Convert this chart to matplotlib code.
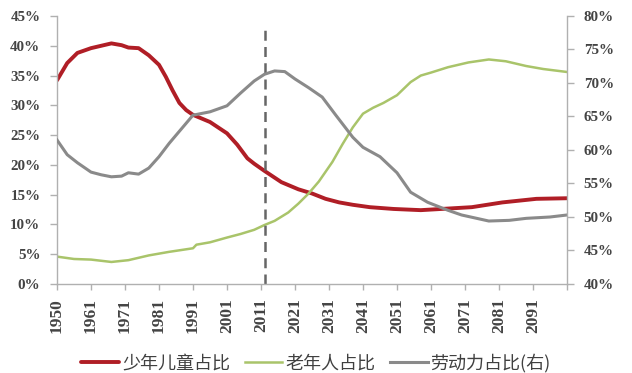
import matplotlib
matplotlib.use("Agg")
import matplotlib.pyplot as plt
from matplotlib.ticker import FuncFormatter, FixedLocator

plt.rcParams['font.family'] = ['Noto Sans CJK SC', 'DejaVu Sans']

# ---- data ----
red_years = [1950, 1953, 1956, 1960, 1963, 1966, 1969, 1971, 1974, 1977, 1980, 1982, 1984, 1986, 1988, 1990,
             1995, 2000, 2003, 2006, 2008, 2011, 2016, 2021, 2025, 2029, 2033, 2037, 2042, 2049, 2057,
             2066, 2072, 2081, 2091, 2100]
red_vals = [34.2, 37.1, 38.8, 39.6, 40.0, 40.4, 40.1, 39.7, 39.6, 38.4, 36.8, 34.8, 32.5, 30.4, 29.2, 28.4,
            27.2, 25.3, 23.4, 21.1, 20.2, 19.0, 17.1, 15.9, 15.2, 14.3, 13.7, 13.3, 12.9, 12.6, 12.4,
            12.7, 12.9, 13.7, 14.3, 14.4]

green_years = [1950, 1955, 1960, 1966, 1971, 1977, 1983, 1990, 1991, 1995, 2000, 2004, 2008, 2011, 2014,
               2018, 2021, 2024, 2027, 2031, 2034, 2037, 2040, 2043, 2046, 2050, 2054, 2057, 2060, 2065,
               2071, 2077, 2082, 2088, 2093, 2100]
green_vals = [4.6, 4.2, 4.1, 3.7, 4.0, 4.8, 5.4, 6.0, 6.6, 7.0, 7.8, 8.4, 9.1, 9.9, 10.6,
              12.0, 13.5, 15.2, 17.2, 20.5, 23.5, 26.3, 28.6, 29.6, 30.4, 31.7, 33.9, 35.0, 35.5, 36.4,
              37.2, 37.7, 37.4, 36.6, 36.1, 35.6]

gray_years = [1950, 1953, 1956, 1960, 1963, 1966, 1969, 1971, 1974, 1977, 1980, 1983, 1987, 1990, 1995,
              2000, 2004, 2008, 2011, 2014, 2017, 2020, 2024, 2028, 2032, 2037, 2040, 2045, 2050, 2054,
              2059, 2065, 2069, 2077, 2083, 2088, 2095, 2100]
gray_vals = [61.5, 59.3, 58.1, 56.7, 56.3, 56.0, 56.1, 56.6, 56.4, 57.3, 59.0, 61.0, 63.4, 65.2, 65.7,
             66.6, 68.5, 70.3, 71.3, 71.8, 71.7, 70.6, 69.3, 67.9, 65.2, 61.9, 60.4, 59.0, 56.6, 53.7,
             52.2, 51.0, 50.3, 49.4, 49.5, 49.8, 50.0, 50.3]

xtick_years = [1950, 1960, 1970, 1980, 1990, 2000, 2010, 2020, 2030, 2040, 2050, 2060, 2070, 2080, 2090]
xtick_labels = ["1950", "1961", "1971", "1981", "1991", "2001", "2011", "2021", "2031", "2041",
                "2051", "2061", "2071", "2081", "2091"]
marker_year = 2011.2
legend_labels = ["少年儿童占比", "老年人占比", "劳动力占比(右)"]

# ---- figure ----
fig = plt.figure(figsize=(6.32, 3.73), dpi=100)
ax = fig.add_axes([57/632, 1-284/373, (567-57)/632, (284-16)/373])
ax2 = ax.twinx()

c_red = '#B01E26'
c_green = '#A9C46A'
c_gray = '#8A8A8A'

l1, = ax.plot(red_years, red_vals, color=c_red, lw=2.8, solid_capstyle='round')
l2, = ax.plot(green_years, green_vals, color=c_green, lw=1.8)
l3, = ax2.plot(gray_years, gray_vals, color=c_gray, lw=2.2)
ax.axvline(marker_year, ymin=0, ymax=43.5/45, color='#666666', lw=1.8, ls=(0, (4, 2.5)))

ax.set_xlim(1950, 2100)
ax.set_ylim(0, 45)
ax2.set_ylim(40, 80)
ax.set_yticks(range(0, 46, 5))
ax2.set_yticks(range(40, 81, 5))
pct = FuncFormatter(lambda v, p: f"{v:.0f}%")
ax.yaxis.set_major_formatter(pct)
ax2.yaxis.set_major_formatter(pct)

ax.xaxis.set_major_locator(FixedLocator(xtick_years + [2100]))
ax.set_xticklabels(xtick_labels + [""], rotation=90)

for lab in ax.get_xticklabels():
    lab.set_fontfamily('Liberation Serif')
    lab.set_fontweight('bold')
    lab.set_fontsize(12.5)
    lab.set_color('#444444')
for lab in ax.get_yticklabels() + ax2.get_yticklabels():
    lab.set_fontfamily('Liberation Serif')
    lab.set_fontweight('bold')
    lab.set_fontsize(10.8)
    lab.set_color('#444444')

spine_c = '#B0B0B0'
for a in (ax, ax2):
    a.spines['top'].set_visible(False)
    for s in ('left', 'right', 'bottom'):
        a.spines[s].set_color(spine_c)
        a.spines[s].set_linewidth(1.0)
ax.spines['right'].set_visible(False)
ax2.spines['left'].set_visible(False)
ax2.spines['bottom'].set_visible(False)
ax.tick_params(axis='y', color=spine_c, length=5, width=1, direction='out', pad=7)
ax.tick_params(axis='x', color=spine_c, length=4, width=1, direction='out', pad=6)
ax2.tick_params(axis='y', color=spine_c, length=5, width=1, direction='out', pad=7)

leg = fig.legend([l1, l2, l3], legend_labels, loc='center', bbox_to_anchor=(0.5, 0.027),
                 ncol=3, frameon=False, fontsize=13, handlelength=2.1, columnspacing=0.8,
                 handletextpad=0.15, labelcolor='#404040', borderpad=0)

fig.savefig('out.png', dpi=100)
